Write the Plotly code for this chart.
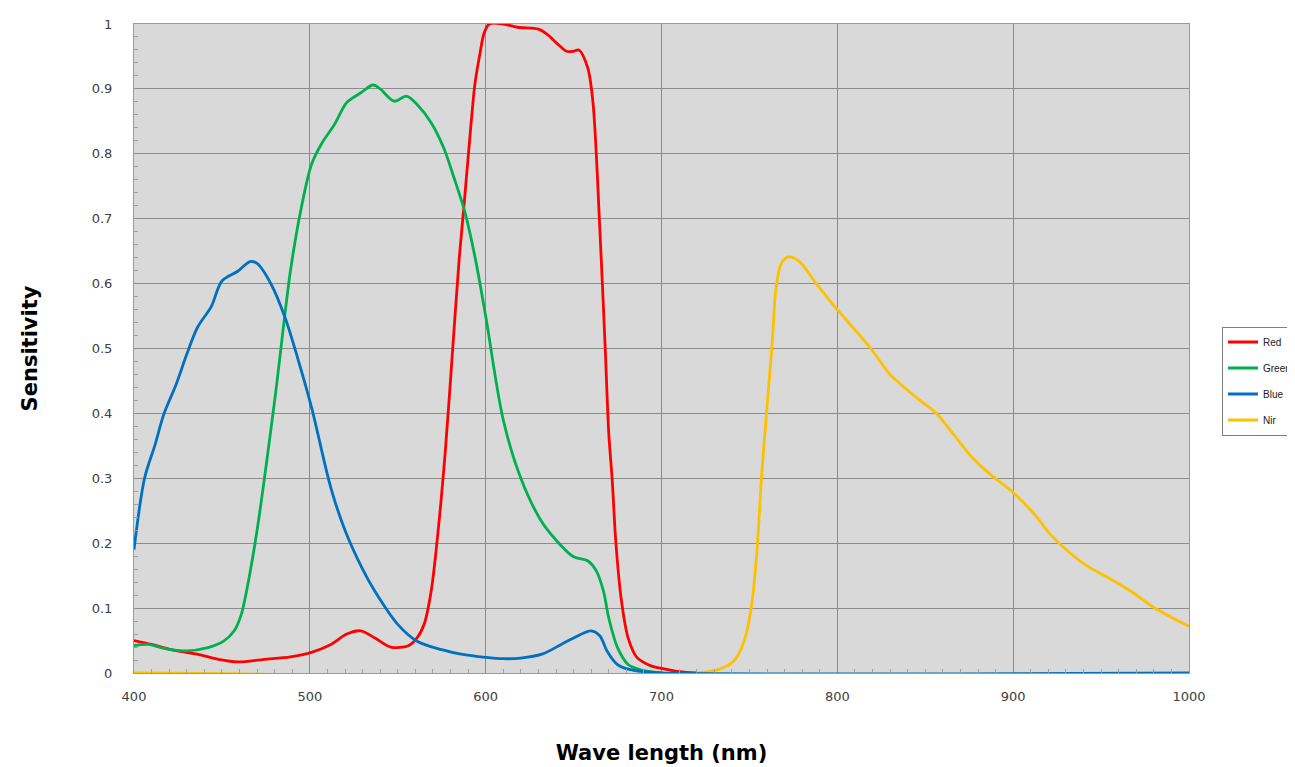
import plotly.graph_objects as go

wl_red = [400, 410, 421, 436, 448, 459, 474, 489, 500, 512, 521, 529, 537, 546, 556, 561, 565, 569, 573, 577, 581, 585, 588, 592, 594, 597, 599, 602, 610, 618, 630, 635, 641, 646, 650, 653, 658, 661, 665, 668, 670, 672, 674, 677, 681, 686, 694, 700, 710, 720]
red = [0.05, 0.044, 0.036, 0.029, 0.021, 0.017, 0.021, 0.025, 0.031, 0.044, 0.06, 0.065, 0.054, 0.04, 0.042, 0.054, 0.075, 0.126, 0.22, 0.34, 0.49, 0.64, 0.73, 0.856, 0.91, 0.958, 0.985, 1.0, 1.0, 0.995, 0.992, 0.984, 0.969, 0.958, 0.958, 0.96, 0.933, 0.88, 0.68, 0.5, 0.37, 0.296, 0.203, 0.116, 0.054, 0.024, 0.011, 0.007, 0.002, 0.0]

wl_green = [400, 408, 417, 430, 442, 451, 457, 461, 464, 470, 480, 489, 495, 501, 507, 514, 521, 529, 536, 540, 548, 555, 561, 569, 576, 582, 588, 594, 600, 610, 620, 631, 639, 650, 658, 663, 667, 670, 675, 681, 688, 700]
green = [0.042, 0.044, 0.038, 0.034, 0.039, 0.049, 0.065, 0.09, 0.126, 0.22, 0.42, 0.62, 0.715, 0.784, 0.817, 0.845, 0.879, 0.894, 0.906, 0.9, 0.881, 0.889, 0.876, 0.848, 0.81, 0.763, 0.712, 0.64, 0.55, 0.39, 0.3, 0.237, 0.208, 0.179, 0.173, 0.157, 0.126, 0.085, 0.039, 0.013, 0.005, 0.0]

wl_blue = [400, 406, 412, 417, 424, 430, 436, 444, 450, 459, 466, 470, 478, 486, 493, 501, 512, 520, 530, 537, 550, 561, 575, 586, 600, 610, 620, 632, 643, 650, 660, 665, 669, 675, 681, 690, 700, 1000]
blue = [0.19, 0.3, 0.352, 0.399, 0.445, 0.491, 0.532, 0.565, 0.604, 0.619, 0.634, 0.631, 0.599, 0.547, 0.486, 0.409, 0.285, 0.22, 0.16, 0.126, 0.075, 0.049, 0.036, 0.029, 0.024, 0.022, 0.023, 0.029, 0.044, 0.054, 0.065, 0.057, 0.034, 0.013, 0.006, 0.002, 0.0, 0.0]

wl_nir = [400, 720, 733, 741, 747, 751, 754, 757, 760, 763, 765, 768, 772, 778, 788, 799, 809, 819, 830, 836, 847, 856, 866, 876, 887, 900, 912, 921, 931, 942, 954, 967, 980, 1000]
nir = [0.0, 0.0, 0.006, 0.018, 0.049, 0.1, 0.178, 0.306, 0.41, 0.51, 0.59, 0.63, 0.641, 0.635, 0.6, 0.563, 0.532, 0.5, 0.46, 0.445, 0.42, 0.401, 0.368, 0.334, 0.306, 0.278, 0.245, 0.214, 0.188, 0.165, 0.147, 0.126, 0.101, 0.072]

# (name, x, y, colour, legend rank) -- drawn in list order
series = [
    ("Nir", wl_nir, nir, "#FFC000", 4),
    ("Red", wl_red, red, "#FF0000", 1),
    ("Green", wl_green, green, "#00B050", 2),
    ("Blue", wl_blue, blue, "#0070C0", 3),
]

fig = go.Figure()
for name, xs, ys, col, rank in series:
    fig.add_trace(go.Scatter(x=xs, y=ys, name=name, mode="lines", legendrank=rank,
                             legendgroup=name,
                             line=dict(color=col, width=2.8, shape="spline", smoothing=0.9)))

W, H = 1295, 767
OFF = 7  # page offset of the figure
L, R, T, B = 133 - OFF, 1188 - OFF, 23 - OFF, 672 - OFF
font_fam = "DejaVu Sans"
fig.update_layout(
    width=W, height=H,
    margin=dict(l=0, r=0, t=0, b=0, autoexpand=False),
    paper_bgcolor="white",
    plot_bgcolor="#D9D9D9",
    font=dict(family=font_fam, size=12, color="#404040"),
    legend=dict(x=(1221 - OFF) / W, y=1 - (380 - OFF) / H, xanchor="left", yanchor="middle",
                bgcolor="white", bordercolor="#808080", borderwidth=1,
                font=dict(size=10, color="#202020", family="Liberation Sans"), itemwidth=30,
                tracegroupgap=7),
    showlegend=True,
)
fig.update_xaxes(
    domain=[L / W, R / W], automargin=False,
    range=[400, 1000], dtick=100, tick0=400,
    showgrid=True, gridcolor="#8C8C8C", gridwidth=1,
    showline=True, linecolor="#9A9A9A", mirror=True,
    ticks="", zeroline=False, ticklabelstandoff=11,
    minor=dict(dtick=10, ticks="inside", ticklen=4, tickcolor="#A0A0A0", showgrid=False),
    title=dict(text="Wave length (nm)", font=dict(size=21, family=font_fam, color="#000000", weight="bold"), standoff=42),
    tickfont=dict(size=13, color="#404040"),
)
fig.update_yaxes(
    domain=[1 - B / H, 1 - T / H], automargin=False,
    range=[0, 1], dtick=0.1,
    showgrid=True, gridcolor="#8C8C8C", gridwidth=1,
    showline=True, linecolor="#9A9A9A", mirror=True,
    ticks="", zeroline=False, ticklabelstandoff=18,
    minor=dict(dtick=0.02, ticks="inside", ticklen=4, tickcolor="#A0A0A0", showgrid=False),
    title=dict(text="Sensitivity", font=dict(size=21, family=font_fam, color="#000000", weight="bold"), standoff=48),
    tickfont=dict(size=13, color="#404040"),
)

fig.write_html("out.html")
